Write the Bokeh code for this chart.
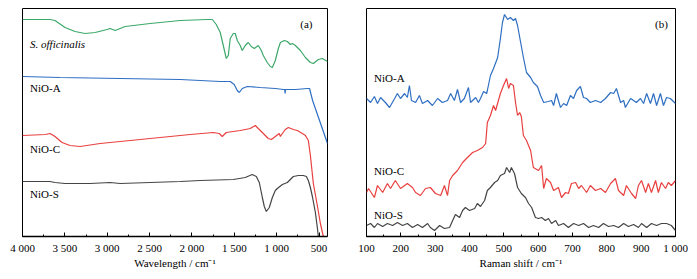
from bokeh.plotting import figure
from bokeh.layouts import row
from bokeh.models import Range1d, FixedTicker
from bokeh.core.properties import value
from bokeh.embed import file_html
from bokeh.resources import INLINE

FONT = "Liberation Serif"

# ---------------- (a) FT-IR data ----------------
ir_so_x = [4000, 3675, 3616, 3498, 3380, 3261, 3143, 3001, 2966, 2907, 2788, 2493, 2138, 1819, 1760,
           1713, 1666, 1630, 1595, 1571, 1548, 1512, 1489, 1465, 1430, 1406, 1371, 1335, 1300, 1264,
           1217, 1181, 1158, 1111, 1075, 1051, 1016, 980, 956, 909, 874, 838, 815, 779, 720, 661,
           602, 567, 508, 460, 400]
ir_so_y = [217, 217, 216, 209, 205, 203, 204, 207, 208, 206, 210, 213, 216, 217, 217,
           212, 204, 191, 178, 181, 198, 203, 203, 196, 191, 186, 191, 194, 190, 188,
           191, 186, 181, 174, 170, 169, 176, 188, 194, 196, 195, 192, 193, 191, 186, 179,
           174, 173, 177, 178, 175]

ir_a_x = [4000, 3557, 2848, 2138, 1666, 1548, 1501, 1465, 1441, 1406, 1347, 1193, 1016, 921,
          905, 900, 895, 779, 638, 612, 576, 400]
ir_a_y = [160, 159, 158, 157, 155, 155, 152, 146, 144, 148, 150, 149, 148, 147,
          147, 143, 147, 147, 148, 148, 136, 93]

ir_c_x = [4000, 3728, 3675, 3616, 3533, 3439, 3320, 3084, 2729, 2375, 2020, 1748, 1678, 1642,
          1595, 1430, 1312, 1252, 1217, 1158, 1099, 1063, 1016, 969, 956, 933, 898, 862, 803,
          756, 697, 661, 626, 602, 567, 520, 484, 449, 420]
ir_c_y = [101, 102, 103, 100, 94, 91, 90, 93, 96, 99, 102, 104, 103, 100,
          104, 106, 108, 111, 108, 103, 98, 97, 100, 103, 100, 103, 107, 109, 107,
          106, 103, 101, 96, 81, 53, 31, 13, 0, -20]

ir_s_x = [4000, 3675, 3616, 3498, 3202, 2966, 2848, 2493, 2138, 1902, 1512, 1371, 1288, 1240,
          1205, 1169, 1146, 1122, 1087, 1051, 1016, 992, 933, 874, 803, 744, 685, 649, 626,
          602, 576, 543, 520, 508, 490]
ir_s_y = [55, 55, 54, 53, 53, 54, 53, 54, 55, 56, 57, 59, 62, 60,
          54, 39, 30, 25, 29, 39, 46, 48, 52, 54, 60, 61, 61, 60, 56,
          49, 39, 24, 9, 0, -20]

ir_ticks = [4000, 3500, 3000, 2500, 2000, 1500, 1000, 500]
ir_minor = [3750, 3250, 2750, 2250, 1750, 1250, 750]
ir_tick_labels = ["4 000", "3 500", "3 000", "2 500", "2 000", "1 500", "1 000", "500"]

# ---------------- (b) Raman data ----------------
ra_a_x = [100, 112, 123, 132, 141, 155, 167, 182, 190, 199, 211, 219, 225, 231, 243, 254, 263,
          278, 292, 307, 321, 336, 345, 356, 365, 374, 385, 397, 403, 418, 426, 432, 441, 450,
          452, 461, 470, 482, 490, 496, 502, 511, 519, 528, 534, 540, 549, 557, 566, 578, 586,
          598, 607, 616, 630, 639, 645, 653, 665, 674, 683, 694, 703, 712, 723, 732, 741, 752,
          767, 782, 796, 811, 820, 828, 840, 849, 854, 869, 878, 886, 898, 907, 916, 927, 936,
          945, 956, 965, 974, 985, 1000]
ra_a_y = [138, 134, 140, 133, 139, 134, 129, 138, 143, 138, 143, 139, 151, 136, 134, 141, 133,
          136, 131, 138, 134, 136, 143, 136, 147, 134, 138, 149, 134, 139, 134, 138, 145, 143,
          146, 161, 168, 179, 198, 214, 222, 217, 219, 216, 218, 211, 194, 179, 164, 159, 154,
          150, 141, 134, 135, 136, 131, 143, 129, 133, 131, 141, 138, 146, 150, 139, 138, 134,
          136, 134, 138, 144, 143, 148, 134, 136, 129, 138, 136, 134, 138, 133, 143, 133, 143,
          131, 143, 131, 139, 138, 133]

ra_c_x = [100, 106, 123, 132, 147, 161, 170, 184, 199, 219, 234, 243, 257, 272, 286, 301, 316,
          327, 336, 342, 351, 365, 380, 394, 409, 423, 438, 447, 452, 461, 470, 476, 490, 499,
          508, 514, 519, 528, 534, 540, 546, 551, 557, 566, 578, 586, 601, 610, 616, 624, 636,
          645, 659, 668, 680, 688, 697, 709, 718, 726, 741, 752, 767, 782, 796, 811, 825, 834,
          849, 857, 872, 884, 892, 901, 913, 921, 930, 942, 950, 959, 971, 979, 988, 1000]
ra_c_y = [44, 48, 39, 51, 44, 53, 48, 56, 48, 53, 49, 44, 41, 48, 49, 43, 41,
          51, 41, 56, 61, 66, 74, 79, 84, 86, 89, 93, 114, 121, 131, 126, 143, 151,
          158, 148, 153, 151, 134, 121, 124, 120, 101, 96, 86, 69, 66, 71, 48, 58, 54,
          46, 49, 39, 44, 43, 53, 54, 48, 51, 44, 51, 46, 48, 44, 53, 58, 46,
          41, 51, 43, 38, 51, 56, 44, 53, 44, 56, 44, 54, 48, 54, 51, 56]

ra_s_x = [100, 112, 123, 132, 147, 161, 176, 190, 205, 219, 234, 249, 263, 278, 286, 298, 313,
          327, 342, 351, 359, 371, 380, 388, 400, 415, 423, 432, 444, 452, 461, 473, 482, 490,
          502, 508, 517, 522, 531, 540, 551, 563, 572, 581, 592, 601, 610, 621, 630, 639, 651,
          659, 674, 688, 703, 718, 732, 747, 761, 776, 790, 805, 820, 834, 849, 863, 878, 892,
          901, 916, 930, 945, 959, 974, 988, 1000]
ra_s_y = [11, 13, 9, 13, 10, 13, 11, 14, 11, 13, 9, 12, 9, 13, 9, 6, 11,
          8, 9, 16, 22, 19, 26, 29, 26, 28, 33, 30, 36, 46, 49, 54, 56, 61,
          63, 69, 64, 69, 63, 49, 43, 39, 33, 29, 19, 18, 19, 16, 18, 13, 16,
          11, 13, 9, 13, 11, 13, 9, 11, 9, 13, 10, 11, 9, 13, 10, 12, 9,
          13, 9, 13, 11, 13, 13, 11, 6]

ra_ticks = [100, 200, 300, 400, 500, 600, 700, 800, 900, 1000]
ra_minor = [150, 250, 350, 450, 550, 650, 750, 850, 950]
ra_tick_labels = ["100", "200", "300", "400", "500", "600", "700", "800", "900", "1 000"]

GREEN = "#3da86a"
BLUE = "#2f6fc2"
RED = "#e8403f"
DARK = "#454545"


def make_fig(width, left, right, xr, ticks, minor, labels, xlabel):
    p = figure(width=width, height=279, output_backend="svg", toolbar_location=None,
               x_range=xr, y_range=Range1d(0, 228), y_axis_location=None,
               min_border_left=left, min_border_right=right, min_border_top=8,
               min_border_bottom=43)
    p.grid.visible = False
    p.outline_line_color = "black"
    p.outline_line_width = 1
    p.outline_line_alpha = 1
    ax = p.xaxis[0]
    ax.ticker = FixedTicker(ticks=ticks, minor_ticks=minor)
    ax.major_label_overrides = {t: l for t, l in zip(ticks, labels)}
    ax.major_tick_in = 4
    ax.major_tick_out = 0
    ax.minor_tick_in = 2
    ax.minor_tick_out = 0
    ax.axis_line_width = 1.3
    ax.major_label_standoff = 5
    ax.major_label_text_font = FONT
    ax.major_label_text_font_size = "11px"
    ax.major_label_text_color = "black"
    ax.axis_label = xlabel
    ax.axis_label_text_font = FONT
    ax.axis_label_text_font_size = "11px"
    ax.axis_label_text_font_style = "normal"
    ax.axis_label_text_color = "black"
    ax.axis_label_standoff = 0
    return p


p1 = make_fig(345, 22, 18, Range1d(4000, 400), ir_ticks, ir_minor, ir_tick_labels,
              "Wavelength / cm\u207b\u00b9")
lw = 1.2
p1.line(ir_so_x, ir_so_y, line_color=GREEN, line_width=lw)
p1.line(ir_a_x, ir_a_y, line_color=BLUE, line_width=lw)
p1.line(ir_c_x, ir_c_y, line_color=RED, line_width=lw)
p1.line(ir_s_x, ir_s_y, line_color=DARK, line_width=lw)

p1.text(x=[3911], y=[193], text=["S. officinalis"], text_font=value(FONT),
        text_font_size="11px", text_font_style="italic", text_baseline="middle",
        text_align="left", text_color="black")
p1.text(x=[3911, 3911, 3911], y=[149, 88, 43], text=["NiO-A", "NiO-C", "NiO-S"],
        text_font=value(FONT), text_font_size="11px", text_baseline="middle",
        text_align="left", text_color="black")
p1.text(x=[649], y=[213], text=["(a)"], text_font=value(FONT), text_font_size="11px",
        text_baseline="middle", text_align="center", text_color="black")

p2 = make_fig(352, 21, 22, Range1d(100, 1000), ra_ticks, ra_minor, ra_tick_labels,
              "Raman shift / cm\u207b\u00b9")
p2.line(ra_a_x, ra_a_y, line_color=BLUE, line_width=lw)
p2.line(ra_c_x, ra_c_y, line_color=RED, line_width=lw)
p2.line(ra_s_x, ra_s_y, line_color=DARK, line_width=lw)

p2.text(x=[122, 122, 122], y=[159, 66, 22], text=["NiO-A", "NiO-C", "NiO-S"],
        text_font=value(FONT), text_font_size="11px", text_baseline="middle",
        text_align="left", text_color="black")
p2.text(x=[959], y=[213], text=["(b)"], text_font=value(FONT), text_font_size="11px",
        text_baseline="middle", text_align="center", text_color="black")

layout = row(p1, p2)
open("out.html", "w").write(file_html(layout, INLINE))
